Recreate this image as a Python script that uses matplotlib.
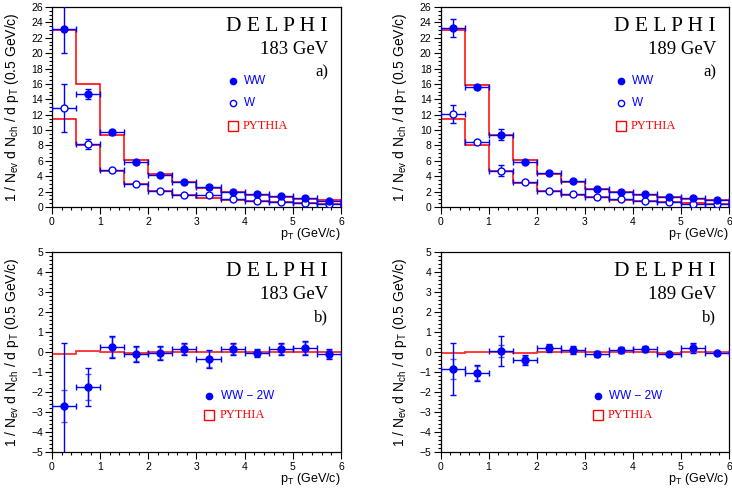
import numpy as np
import matplotlib
matplotlib.use("Agg")
import matplotlib.pyplot as plt
from matplotlib.ticker import MultipleLocator

plt.rcParams["font.family"] = ["Liberation Sans", "DejaVu Sans"]
plt.rcParams["mathtext.fontset"] = "custom"
plt.rcParams["mathtext.rm"] = "Liberation Sans"
plt.rcParams["mathtext.it"] = "Liberation Sans"

# pT bins (GeV/c)
edges = [0.0, 0.5, 1.0, 1.5, 2.0, 2.5, 3.0, 3.5, 4.0, 4.5, 5.0, 5.5, 6.0]
centres = [0.25, 0.75, 1.25, 1.75, 2.25, 2.75, 3.25, 3.75, 4.25, 4.75, 5.25, 5.75]

# 183 GeV spectra
ww_183 = [23.2, 14.7, 9.7, 5.8, 4.1, 3.2, 2.6, 2.0, 1.7, 1.4, 1.2, 0.8]
ww_183_err = [3.2, 0.7, 0.3, 0.2, 0.2, 0.2, 0.3, 0.2, 0.1, 0.1, 0.1, 0.1]
w_183 = [12.9, 8.2, 4.8, 3.0, 2.1, 1.6, 1.5, 1.0, 0.8, 0.65, 0.5, 0.45]
w_183_err = [3.1, 0.7, 0.2, 0.1, 0.1, 0.1, 0.2, 0.1, 0.1, 0.1, 0.1, 0.1]
py_ww_183 = [23.0, 16.0, 9.3, 6.1, 4.3, 3.2, 2.5, 2.0, 1.55, 1.3, 1.1, 0.9]
py_w_183 = [11.5, 8.0, 4.7, 3.0, 2.1, 1.55, 1.2, 0.95, 0.8, 0.65, 0.5, 0.45]

# 189 GeV spectra
ww_189 = [23.3, 15.6, 9.4, 5.9, 4.4, 3.4, 2.4, 2.0, 1.7, 1.35, 1.15, 0.9]
ww_189_err = [1.2, 0.2, 0.7, 0.2, 0.1, 0.1, 0.1, 0.1, 0.1, 0.1, 0.1, 0.1]
w_189 = [12.1, 8.4, 4.7, 3.2, 2.1, 1.65, 1.25, 1.0, 0.75, 0.65, 0.45, 0.4]
w_189_err = [1.2, 0.2, 0.7, 0.1, 0.1, 0.1, 0.1, 0.1, 0.1, 0.1, 0.1, 0.1]
py_ww_189 = [23.0, 15.9, 9.3, 6.1, 4.3, 3.3, 2.4, 1.95, 1.55, 1.25, 1.1, 0.9]
py_w_189 = [11.5, 8.0, 4.7, 3.1, 2.1, 1.6, 1.25, 0.95, 0.8, 0.65, 0.5, 0.45]

# WW - 2W differences (stat and total errors)
diff_183 = [-2.7, -1.75, 0.25, -0.08, -0.05, 0.15, -0.35, 0.15, -0.05, 0.15, 0.2, -0.08]
diff_183_stat = [0.8, 0.65, 0.5, 0.35, 0.3, 0.25, 0.4, 0.25, 0.15, 0.25, 0.3, 0.2]
diff_183_tot = [3.15, 0.95, 0.55, 0.4, 0.35, 0.3, 0.45, 0.3, 0.2, 0.3, 0.35, 0.25]
py_diff_183 = [-0.08, 0.03, -0.02, -0.04, -0.02, 0.0, 0.0, 0.0, -0.02, 0.0, 0.0, 0.0]

diff_189 = [-0.87, -1.05, 0.05, -0.4, 0.22, 0.1, -0.08, 0.08, 0.15, -0.1, 0.2, -0.05]
diff_189_stat = [0.5, 0.35, 0.3, 0.2, 0.15, 0.15, 0.12, 0.12, 0.12, 0.05, 0.2, 0.05]
diff_189_tot = [1.3, 0.4, 0.75, 0.25, 0.2, 0.2, 0.15, 0.15, 0.15, 0.06, 0.25, 0.06]
py_diff_189 = [-0.07, -0.02, -0.02, -0.05, -0.01, 0.0, -0.02, 0.0, 0.0, -0.03, 0.0, -0.02]

BLUE = "#0000ff"
RED = "#ff0000"
YLABEL = r"1 / N$_{ev}$ d N$_{ch}$ / d p$_{T}$ (0.5 GeV/c)"
XLABEL = r"p$_{T}$ (GeV/c)"
SERIF = ["Liberation Serif", "DejaVu Serif"]


def style_axes(ax, ymin, ymax, major, minor):
    ax.set_xlim(0, 6)
    ax.set_ylim(ymin, ymax)
    ax.xaxis.set_major_locator(MultipleLocator(1))
    ax.xaxis.set_minor_locator(MultipleLocator(0.2))
    ax.yaxis.set_major_locator(MultipleLocator(major))
    ax.yaxis.set_minor_locator(MultipleLocator(minor))
    ax.tick_params(which="both", direction="out", top=False, right=False,
                   labelsize=7.5, width=0.8)
    ax.tick_params(axis="x", pad=2.5)
    ax.tick_params(axis="y", pad=1.5)
    ax.tick_params(which="major", length=5)
    ax.tick_params(which="minor", length=2.5)
    for s in ax.spines.values():
        s.set_linewidth(0.9)
    ax.text(-0.14, 0.5, YLABEL, transform=ax.transAxes, rotation=90,
            ha="center", va="center", fontsize=10)
    ax.text(1.0, -0.095, XLABEL, transform=ax.transAxes, ha="right", va="top",
            fontsize=9)


def header(ax, energy, tag):
    kw = dict(transform=ax.transAxes, ha="right", va="center", family=SERIF)
    ax.text(0.955, 0.905, "D E L P H I", fontsize=15.5, **kw)
    ax.text(0.955, 0.79, f"{energy} GeV", fontsize=13.5, **kw)
    ax.text(0.955, 0.675, tag, fontsize=12, **kw)


def spectrum_panel(ax, energy, ww, ww_err, w, w_err, py_ww, py_w):
    for py in (py_ww, py_w):
        py = np.array(py)
        ax.stairs(py + 0.12, edges, baseline=py - 0.12, fill=True,
                  color="#ff9a9a", alpha=0.6, lw=0, zorder=1)
        ax.stairs(py, edges, baseline=0, color=RED, lw=1.1, zorder=2)
    ax.errorbar(centres, w, xerr=0.25, yerr=w_err, fmt="o", ms=5,
                mfc="white", mec=BLUE, mew=1.0, color=BLUE, elinewidth=1.0,
                capsize=2.5, capthick=1.0, zorder=3)
    ax.errorbar(centres, ww, xerr=0.25, yerr=ww_err, fmt="o", ms=5,
                color=BLUE, elinewidth=1.0, capsize=2.5, capthick=1.0, zorder=4)
    style_axes(ax, 0, 26, 2, 0.5)
    header(ax, energy, "a)")

    # legend drawn by hand
    t = ax.transAxes
    ax.plot([0.625], [0.63], "o", ms=4.5, color=BLUE, transform=t)
    ax.text(0.665, 0.63, "WW", transform=t, color=BLUE, va="center", fontsize=8.5)
    ax.plot([0.625], [0.52], "o", ms=4.5, mfc="white", mec=BLUE, mew=1.0,
            transform=t)
    ax.text(0.665, 0.52, "W", transform=t, color=BLUE, va="center", fontsize=8.5)
    ax.plot([0.625], [0.405], "s", ms=7.5, mfc="white", mec=RED, mew=1.0,
            transform=t)
    ax.text(0.66, 0.405, "PYTHIA", transform=t, color=RED, va="center",
            fontsize=9, family=SERIF)


def diff_panel(ax, energy, diff, stat, tot, py):
    py = np.array(py)
    ax.stairs(py + 0.04, edges, baseline=py - 0.04, fill=True,
              color="#ff9a9a", alpha=0.7, lw=0, zorder=1)
    ax.stairs(py, edges, color="#ff3030", lw=1.3, zorder=2)
    ax.errorbar(centres, diff, yerr=stat, fmt="none", ecolor="#5a5aff",
                elinewidth=1.0, capsize=2.5, capthick=1.0, zorder=3)
    ax.errorbar(centres, diff, xerr=0.25, yerr=tot, fmt="o", ms=5,
                color=BLUE, elinewidth=1.0, capsize=2.5, capthick=1.0, zorder=4)
    style_axes(ax, -5, 5, 1, 0.2)
    header(ax, energy, "b)")

    t = ax.transAxes
    ax.plot([0.545], [0.28], "o", ms=4.5, color=BLUE, transform=t)
    ax.text(0.585, 0.28, "WW \u2212 2W", transform=t, color=BLUE, va="center",
            fontsize=8.5)
    ax.plot([0.545], [0.185], "s", ms=7.5, mfc="white", mec=RED, mew=1.0,
            transform=t)
    ax.text(0.58, 0.185, "PYTHIA", transform=t, color=RED, va="center",
            fontsize=9, family=SERIF)


fig = plt.figure(figsize=(7.32, 4.91), dpi=100)
ax_a183 = fig.add_axes([0.0710, 0.5784, 0.3948, 0.4073])
ax_a189 = fig.add_axes([0.6018, 0.5784, 0.3941, 0.4073])
ax_b183 = fig.add_axes([0.0710, 0.0794, 0.3948, 0.4073])
ax_b189 = fig.add_axes([0.6018, 0.0794, 0.3941, 0.4073])

spectrum_panel(ax_a183, 183, ww_183, ww_183_err, w_183, w_183_err, py_ww_183, py_w_183)
spectrum_panel(ax_a189, 189, ww_189, ww_189_err, w_189, w_189_err, py_ww_189, py_w_189)
diff_panel(ax_b183, 183, diff_183, diff_183_stat, diff_183_tot, py_diff_183)
diff_panel(ax_b189, 189, diff_189, diff_189_stat, diff_189_tot, py_diff_189)

fig.savefig("out.png", dpi=100)
